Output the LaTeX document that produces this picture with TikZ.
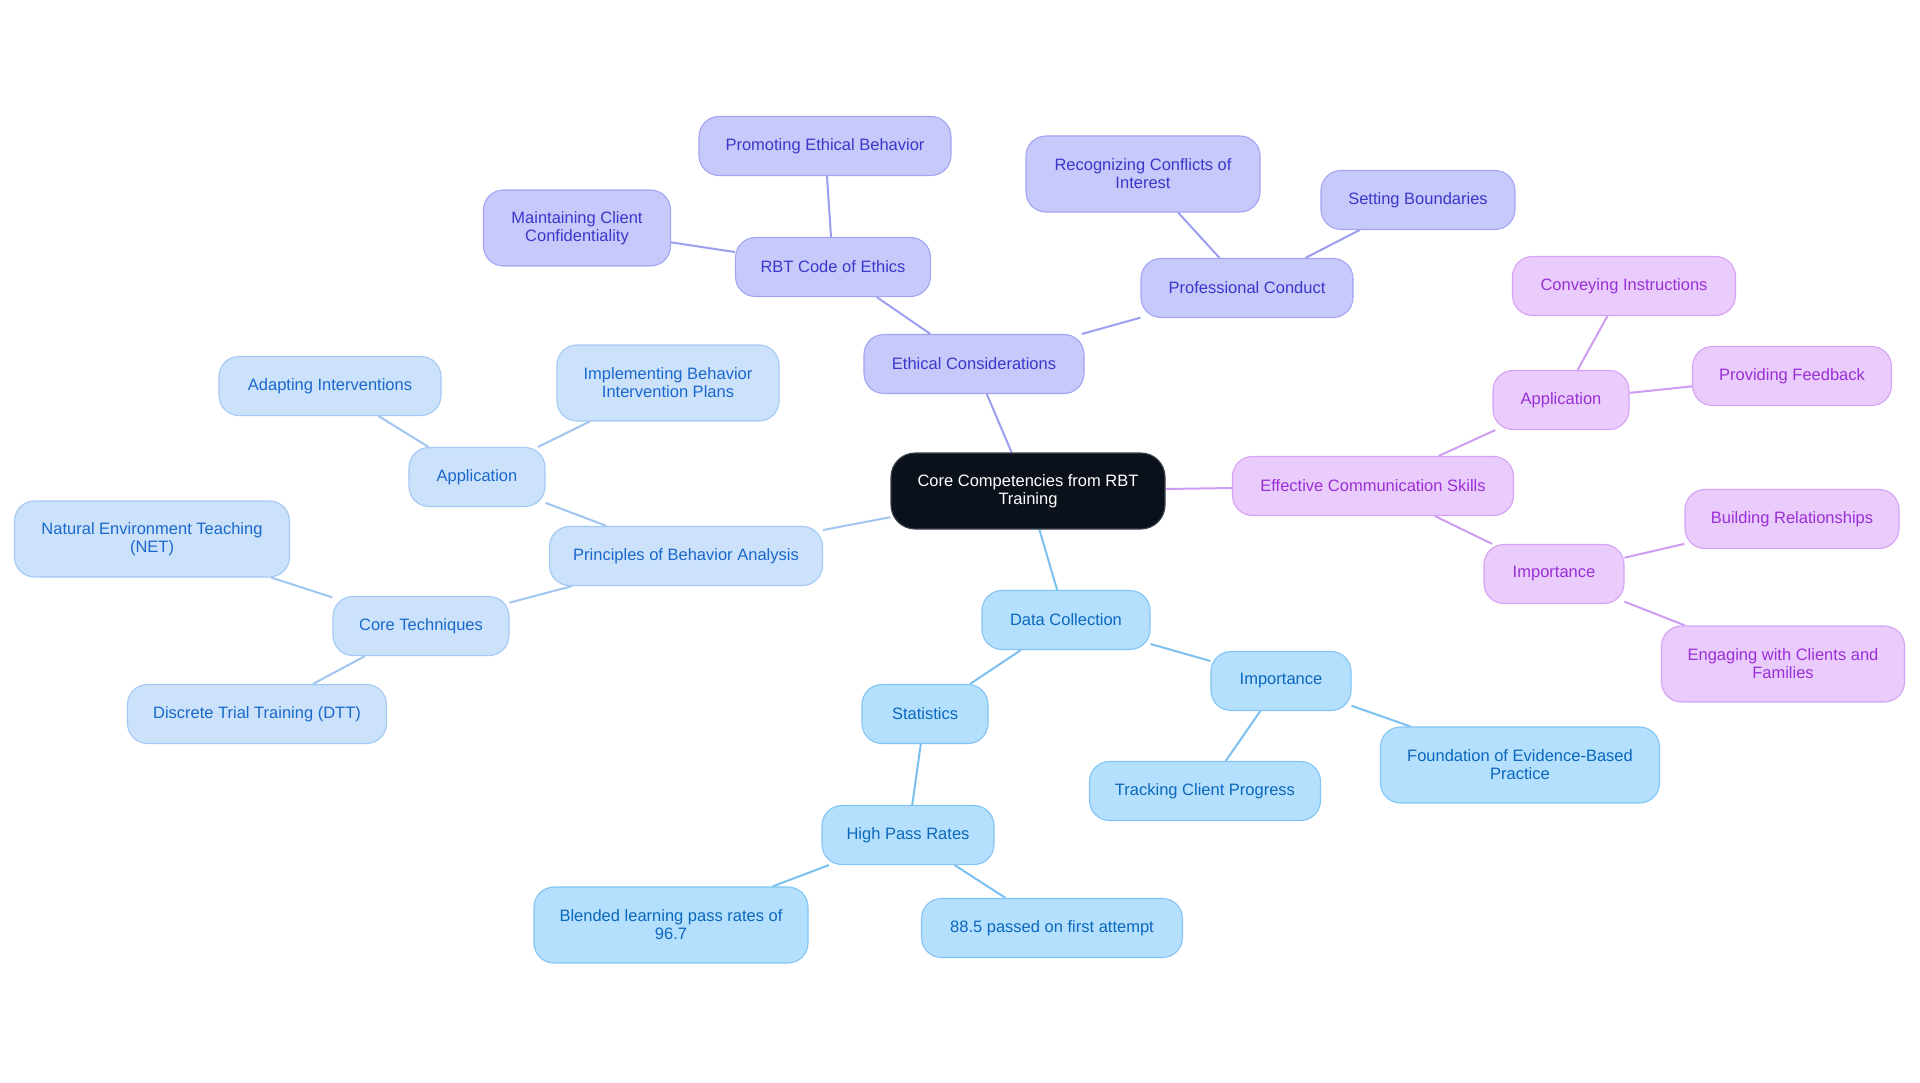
\documentclass[tikz,border=0pt]{standalone}
\usepackage{fontspec}
\setmainfont{Liberation Sans}
\usetikzlibrary{backgrounds}
\definecolor{ctrF}{HTML}{0B111B}
\definecolor{ctrB}{HTML}{3C434F}
\definecolor{ethF}{HTML}{C8C9FB}
\definecolor{ethB}{HTML}{A3A5F2}
\definecolor{ethT}{HTML}{3B37C9}
\definecolor{ethL}{HTML}{9C9EF0}
\definecolor{purF}{HTML}{E9CBFC}
\definecolor{purB}{HTML}{D5A3F5}
\definecolor{purT}{HTML}{9A2FD6}
\definecolor{purL}{HTML}{CE9DF2}
\definecolor{lbF}{HTML}{CCE2FB}
\definecolor{lbB}{HTML}{A3C9F4}
\definecolor{lbT}{HTML}{1A68CC}
\definecolor{lbL}{HTML}{A0C5F0}
\definecolor{skF}{HTML}{B4DFFD}
\definecolor{skB}{HTML}{82C5F4}
\definecolor{skT}{HTML}{0B68BC}
\definecolor{skL}{HTML}{7CC0F0}
\begin{document}
\begin{tikzpicture}[x=1pt,y=-1pt,
  box/.style={rounded corners=20pt, draw, line width=1.1pt, align=center,
    font=\fontsize{16.5}{18}\selectfont, inner sep=0pt, minimum height=59pt},
  tall/.style={minimum height=76pt},
  ctr/.style={box, rounded corners=24pt, fill=ctrF, draw=ctrB, text=white, minimum height=76pt},
  eth/.style={box, fill=ethF, draw=ethB, text=ethT},
  pur/.style={box, fill=purF, draw=purB, text=purT},
  lb/.style={box, fill=lbF, draw=lbB, text=lbT},
  sk/.style={box, fill=skF, draw=skB, text=skT},
  ethline/.style={draw=ethL, line width=2pt},
  purline/.style={draw=purL, line width=2pt},
  lbline/.style={draw=lbL, line width=2pt},
  skline/.style={draw=skL, line width=2pt}]
\useasboundingbox (0,0) rectangle (1920,1083);

\node[ctr, minimum width=274pt] (core) at (1028,491) {Core Competencies from RBT\\Training};

% Ethical
\node[eth, minimum width=220pt] (ethic) at (974,364) {Ethical Considerations};
\node[eth, minimum width=195pt] (code) at (833,267) {RBT Code of Ethics};
\node[eth, minimum width=252pt] (promo) at (825,146) {Promoting Ethical Behavior};
\node[eth, tall, minimum width=187pt] (confid) at (577,228) {Maintaining Client\\Confidentiality};
\node[eth, minimum width=212pt] (prof) at (1247,288) {Professional Conduct};
\node[eth, tall, minimum width=234pt] (conf) at (1143,174) {Recognizing Conflicts of\\Interest};
\node[eth, minimum width=194pt] (bound) at (1418,200) {Setting Boundaries};

% Communication
\node[pur, minimum width=281pt] (comm) at (1373,486) {Effective Communication Skills};
\node[pur, minimum width=136pt] (papp) at (1561,400) {Application};
\node[pur, minimum width=223pt] (convey) at (1624,286) {Conveying Instructions};
\node[pur, minimum width=199pt] (feed) at (1792,376) {Providing Feedback};
\node[pur, minimum width=140pt] (pimp) at (1554,574) {Importance};
\node[pur, minimum width=214pt] (build) at (1792,519) {Building Relationships};
\node[pur, tall, minimum width=243pt] (engage) at (1783,664) {Engaging with Clients and\\Families};

% Data collection
\node[sk, minimum width=168pt] (data) at (1066,620) {Data Collection};
\node[sk, minimum width=140pt] (simp) at (1281,681) {Importance};
\node[sk, minimum width=231pt] (track) at (1205,791) {Tracking Client Progress};
\node[sk, tall, minimum width=279pt] (found) at (1520,765) {Foundation of Evidence-Based\\Practice};
\node[sk, minimum width=126pt] (stats) at (925,714) {Statistics};
\node[sk, minimum width=172pt] (high) at (908,835) {High Pass Rates};
\node[sk, tall, minimum width=274pt] (blend) at (671,925) {Blended learning pass rates of\\96.7};
\node[sk, minimum width=261pt] (first) at (1052,928) {88.5 passed on first attempt};

% Principles
\node[lb, minimum width=273pt] (princ) at (686,556) {Principles of Behavior Analysis};
\node[lb, minimum width=136pt] (lapp) at (477,477) {Application};
\node[lb, minimum width=222pt] (adapt) at (330,386) {Adapting Interventions};
\node[lb, tall, minimum width=222pt] (impl) at (668,383) {Implementing Behavior\\Intervention Plans};
\node[lb, minimum width=176pt] (coret) at (421,626) {Core Techniques};
\node[lb, tall, minimum width=275pt] (net) at (152,539) {Natural Environment Teaching\\(NET)};
\node[lb, minimum width=259pt] (dtt) at (257,714) {Discrete Trial Training (DTT)};

\begin{scope}[on background layer]
\fill[white] (0,0) rectangle (1920,1083);
\draw[ethline] (core) -- (ethic);
\draw[ethline] (ethic) -- (code);
\draw[ethline] (code) -- (promo);
\draw[ethline] (code) -- (confid);
\draw[ethline] (ethic) -- (prof);
\draw[ethline] (prof) -- (conf);
\draw[ethline] (prof) -- (bound);
\draw[purline] (core) -- (comm);
\draw[purline] (comm) -- (papp);
\draw[purline] (papp) -- (convey);
\draw[purline] (papp) -- (feed);
\draw[purline] (comm) -- (pimp);
\draw[purline] (pimp) -- (build);
\draw[purline] (pimp) -- (engage);
\draw[skline] (core) -- (data);
\draw[skline] (data) -- (simp);
\draw[skline] (simp) -- (track);
\draw[skline] (simp) -- (found);
\draw[skline] (data) -- (stats);
\draw[skline] (stats) -- (high);
\draw[skline] (high) -- (blend);
\draw[skline] (high) -- (first);
\draw[lbline] (core) -- (princ);
\draw[lbline] (princ) -- (lapp);
\draw[lbline] (lapp) -- (adapt);
\draw[lbline] (lapp) -- (impl);
\draw[lbline] (princ) -- (coret);
\draw[lbline] (coret) -- (net);
\draw[lbline] (coret) -- (dtt);
\end{scope}
\end{tikzpicture}
\end{document}
